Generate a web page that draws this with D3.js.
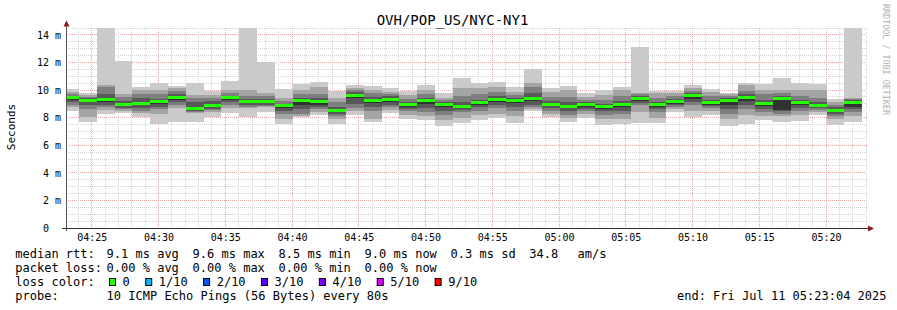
<!DOCTYPE html>
<html>
<head>
<meta charset="utf-8">
<script src="https://cdn.jsdelivr.net/npm/d3@7"></script>
<style>
  body { margin: 0; background: #fff; }
  text { font-family: "DejaVu Sans Mono", monospace; fill: #000; white-space: pre; }
</style>
</head>
<body>
<svg id="chart" width="897" height="310"></svg>
<script>
// graph window and rrd step
const graphStart = "2025-07-11T04:23:04Z";
const graphEnd = "2025-07-11T05:23:04Z";
const firstSlot = "2025-07-11T04:22:42Z";
const stepSeconds = 80;

// 10 sorted ping rtts (ms) for every 80s slot
const ping1 = [8.45,7.71,8.27,8.32,8.03,7.54,7.71,7.71,8.07,8.32, 8.07,8.44,7.54,8.03,8.19,7.54,8.19,7.71,8.32,7.88, 7.83,7.40,7.64,7.83,7.95,7.64,8.51,8.07,7.71,7.95, 7.47,7.54,7.59,7.64,8.44,8.07,8.19,7.40,7.54,7.83, 7.71,7.78,8.19,7.47,7.71];
const ping2 = [8.75,8.07,8.56,8.51,8.32,8.30,8.68,8.32,8.44,8.68, 8.68,8.80,7.90,8.15,8.40,7.90,8.50,7.90,8.55,8.20, 8.10,7.80,8.00,8.20,8.30,8.10,8.60,8.30,7.95,8.30, 7.90,7.90,8.40,8.00,8.60,8.50,8.50,7.90,8.20,8.10, 8.10,8.20,8.40,7.90,8.10];
const ping3 = [8.95,8.60,8.75,8.62,8.50,8.60,8.90,8.38,8.55,8.90, 8.80,8.88,8.30,8.30,8.60,8.10,8.70,8.50,8.75,8.45, 8.40,8.20,8.40,8.50,8.70,8.50,8.75,8.50,8.20,8.50, 8.20,8.25,8.90,8.40,8.75,8.90,8.70,8.30,8.60,8.40, 8.30,8.45,8.55,8.10,8.40];
const ping4 = [9.10,8.90,8.95,8.72,8.70,8.80,9.10,8.45,8.65,9.10, 8.90,8.95,8.50,8.60,8.80,8.25,9.00,8.75,8.95,8.65, 8.70,8.50,8.55,8.75,8.95,8.80,8.95,8.70,8.50,8.65, 8.45,8.50,9.05,8.65,8.90,9.10,8.85,8.60,8.90,8.65, 8.45,8.70,8.70,8.30,8.60];
const ping5 = [9.25,9.15,9.10,8.85,8.90,9.00,9.30,8.55,8.78,9.30, 9.05,9.05,8.70,8.95,8.95,8.40,9.40,9.05,9.15,8.80, 9.00,8.75,8.70,8.95,9.15,9.05,9.20,8.85,8.70,8.80, 8.65,8.75,9.20,8.80,9.00,9.35,8.95,8.90,9.20,8.85, 8.55,8.90,8.80,8.45,8.80];
const ping6 = [9.52,9.32,9.40,9.00,9.10,9.20,9.52,8.75,8.95,9.52, 9.22,9.22,8.90,9.30,9.20,8.60,9.70,9.30,9.38,8.95, 9.28,9.00,8.85,9.12,9.38,9.30,9.42,9.00,8.85,8.97, 8.85,9.00,9.42,8.98,9.18,9.66,9.12,9.30,9.50,9.08, 9.40,9.12,8.95,8.60,9.12];
const ping7 = [9.60,9.40,9.70,9.20,9.40,9.35,9.70,9.10,9.20,9.60, 9.35,9.35,9.00,9.45,9.40,8.80,9.85,9.50,9.55,9.10, 9.45,9.15,9.10,9.30,9.55,9.45,9.80,9.20,9.10,9.10, 9.00,9.20,9.55,9.15,9.35,9.80,9.30,9.40,9.70,9.30, 9.60,9.30,9.10,8.75,9.25];
const ping8 = [9.75,9.50,10.20,9.50,9.75,9.70,9.90,9.40,9.40,9.80, 9.60,9.55,9.20,9.70,9.70,9.10,10.00,9.80,9.70,9.35, 9.70,9.30,9.60,9.70,9.85,9.65,10.20,9.50,9.50,9.30, 9.30,9.60,9.70,9.45,9.55,9.95,9.55,9.55,9.95,9.70, 9.80,9.60,9.40,8.95,9.35];
const ping9 = [9.89,9.64,10.37,9.72,10.01,10.01,10.13,9.64,9.64,10.01, 10.01,9.77,9.40,10.01,10.25,9.40,10.13,10.01,9.89,9.64, 10.01,9.40,10.13,10.13,10.25,9.89,10.49,9.89,10.01,9.52, 9.64,10.01,9.81,9.77,9.77,10.13,9.89,9.72,10.37,10.01, 10.01,10.01,10.01,9.16,9.40];
const ping10 = [10.08,9.77,15.80,12.13,10.25,10.49,10.32,10.54,9.96,10.66, 15.40,12.01,10.08,10.44,10.59,9.96,10.37,10.30,10.13,9.96, 10.35,9.77,10.85,10.49,10.59,10.20,11.51,10.13,10.30,9.81, 10.01,10.25,13.10,9.96,9.96,10.37,10.08,9.80,10.49,10.44, 10.88,10.54,10.44,9.38,15.60];
const medianRtt = [9.48,9.28,9.35,8.94,9.04,9.16,9.48,8.68,8.90,9.48, 9.19,9.19,8.85,9.26,9.14,8.51,9.62,9.26,9.33,8.92, 9.23,8.97,8.80,9.09,9.33,9.26,9.38,8.94,8.80,8.92, 8.80,8.94,9.38,8.94,9.14,9.62,9.09,9.28,9.45,9.04, 9.38,9.09,8.90,8.51,9.09];

const yTicks = [0, 2, 4, 6, 8, 10, 12, 14];
const rttStats = [["9.1", "avg"], ["9.6", "max"], ["8.5", "min"], ["9.0", "now"], ["0.3", "sd"]];
const lossStats = [["0.00", "avg"], ["0.00", "max"], ["0.00", "min"], ["0.00", "now"]];
const lossLabels = ["0", "1/10", "2/10", "3/10", "4/10", "5/10", "9/10"];
const lossColors = ["#26ff00", "#00b8ff", "#0059ff", "#5e00ff", "#7e00ff", "#dd00ff", "#ff0000"];

const smokeGreys = ["#cacaca", "#a4a4a4", "#7e7e7e", "#585858", "#323232"];

const svg = d3.select("#chart");
svg.append("rect").attr("width", 897).attr("height", 310).attr("fill", "#fff");

const plotL = 66, plotR = 867, plotT = 28, plotB = 228;
const x = d3.scaleUtc().domain([new Date(graphStart), new Date(graphEnd)]).range([plotL, plotR]);
const y = d3.scaleLinear().domain([0, 14.5]).range([plotB, plotT]);

svg.append("clipPath").attr("id", "plot")
  .append("rect").attr("x", plotL).attr("y", plotT).attr("width", plotR - plotL).attr("height", plotB - plotT);

// grid first, dotted like rrdtool
const grid = svg.append("g");
const minorCol = "#d4d4d4", majorCol = "#eaa4a4";
d3.range(0, 14.51, 0.5).forEach(v => {
  const yy = Math.floor(y(v)) + 0.5;
  if (v === 0) return;
  grid.append("line").attr("x1", plotL).attr("x2", plotR).attr("y1", yy).attr("y2", yy)
    .attr("stroke", v % 2 === 0 ? majorCol : minorCol).attr("stroke-dasharray", "1,1");
});
x.ticks(d3.utcMinute.every(1)).forEach(t => {
  const xx = Math.floor(x(t)) + 0.5;
  grid.append("line").attr("x1", xx).attr("x2", xx).attr("y1", plotT).attr("y2", plotB)
    .attr("stroke", t.getUTCMinutes() % 5 === 0 ? majorCol : minorCol).attr("stroke-dasharray", "1,1");
});

const pings = [ping1, ping2, ping3, ping4, ping5, ping6, ping7, ping8, ping9, ping10];
const slots = medianRtt.map((m, i) => {
  const t0 = d3.utcSecond.offset(new Date(firstSlot), i * stepSeconds);
  return { t0, t1: d3.utcSecond.offset(t0, stepSeconds), median: m, p: pings.map(a => a[i]) };
});

// smoke
const plot = svg.append("g").attr("clip-path", "url(#plot)");
slots.forEach(s => {
  const x0 = x(s.t0), x1 = x(s.t1);
  smokeGreys.forEach((c, l) => {
    const lo = s.p[l], hi = s.p[9 - l];
    plot.append("rect")
      .attr("x", x0).attr("width", x1 - x0)
      .attr("y", y(hi)).attr("height", y(lo) - y(hi))
      .attr("fill", c).attr("shape-rendering", "crispEdges");
  });
  plot.append("rect")
    .attr("x", x0).attr("width", x1 - x0)
    .attr("y", y(s.median) - 1.5).attr("height", 3)
    .attr("fill", lossColors[0]).attr("shape-rendering", "crispEdges");
});

// axes
const axisCol = "#333", arrowCol = "#8b1a1a";
svg.append("line").attr("x1", 66.5).attr("x2", 66.5).attr("y1", 231).attr("y2", 26)
  .attr("stroke", "#555");
svg.append("line").attr("x1", 62).attr("x2", 869).attr("y1", 228.5).attr("y2", 228.5)
  .attr("stroke", axisCol);
svg.append("path").attr("d", "M63.5,26.5L69.5,26.5L66.5,20.5Z").attr("fill", arrowCol);
svg.append("path").attr("d", "M868,225.5L868,231.5L874,228.5Z").attr("fill", arrowCol);

const yAxis = svg.append("g").attr("transform", "translate(61,0)")
  .call(d3.axisLeft(y).tickValues(yTicks).tickSize(0).tickPadding(0)
    .tickFormat(d => d === 0 ? "0  " : d + " m"));
yAxis.select(".domain").remove();
yAxis.selectAll("text").style("font-family", "DejaVu Sans Mono").style("font-size", "10px").attr("fill", "#000");

const xAxis = svg.append("g").attr("transform", "translate(0,228)")
  .call(d3.axisBottom(x).ticks(d3.utcMinute.every(5)).tickSize(0).tickPadding(5.6)
    .tickFormat(d3.utcFormat("%H:%M")));
xAxis.select(".domain").remove();
xAxis.selectAll("text").style("font-family", "DejaVu Sans Mono").style("font-size", "10px").attr("fill", "#000");

// title and labels
svg.append("text").attr("x", 452.5).attr("y", 25).attr("text-anchor", "middle")
  .style("font-size", "14px").text("OVH/POP_US/NYC-NY1");
svg.append("text").attr("transform", "translate(14.5,127) rotate(-90)").attr("text-anchor", "middle")
  .style("font-size", "11px").text("Seconds");
svg.append("text").attr("transform", "translate(883,4) rotate(90)")
  .style("font-size", "8.4px").style("fill", "#b0b0b0").text("RRDTOOL / TOBI OETIKER");

// legend
const fs = "12px";
const rowY = [258.3, 272.3, 286.3, 300.3];
const colX = k => 106.6 + k * 86;
const leg = svg.append("g").style("font-size", fs);
leg.append("text").attr("x", 15.3).attr("y", rowY[0]).text("median rtt:");
rttStats.forEach((s, k) => leg.append("text").attr("x", colX(k)).attr("y", rowY[0]).text(s[0] + " ms " + s[1]));
leg.append("text").attr("x", 529.3).attr("y", rowY[0]).text("34.8");
leg.append("text").attr("x", 577.6).attr("y", rowY[0]).text("am/s");

leg.append("text").attr("x", 15.3).attr("y", rowY[1]).text("packet loss:");
lossStats.forEach((s, k) => leg.append("text").attr("x", colX(k)).attr("y", rowY[1]).text(s[0] + " % " + s[1]));

leg.append("text").attr("x", 15.3).attr("y", rowY[2]).text("loss color:");
let lx = 109;
lossLabels.forEach((lab, k) => {
  leg.append("rect").attr("x", lx + 0.5).attr("y", 278.5).attr("width", 6).attr("height", 7)
    .attr("fill", lossColors[k]).attr("stroke", "#000").attr("stroke-width", 1);
  leg.append("text").attr("x", lx + 13.6).attr("y", rowY[2]).text(lab);
  lx += 13.6 + lab.length * 7.22 + 15.4;
});

leg.append("text").attr("x", 15.3).attr("y", rowY[3]).text("probe:");
leg.append("text").attr("x", 106.6).attr("y", rowY[3]).text("10 ICMP Echo Pings (56 Bytes) every 80s");
leg.append("text").attr("x", 677).attr("y", rowY[3]).text("end: Fri Jul 11 05:23:04 2025");
</script>
</body>
</html>
